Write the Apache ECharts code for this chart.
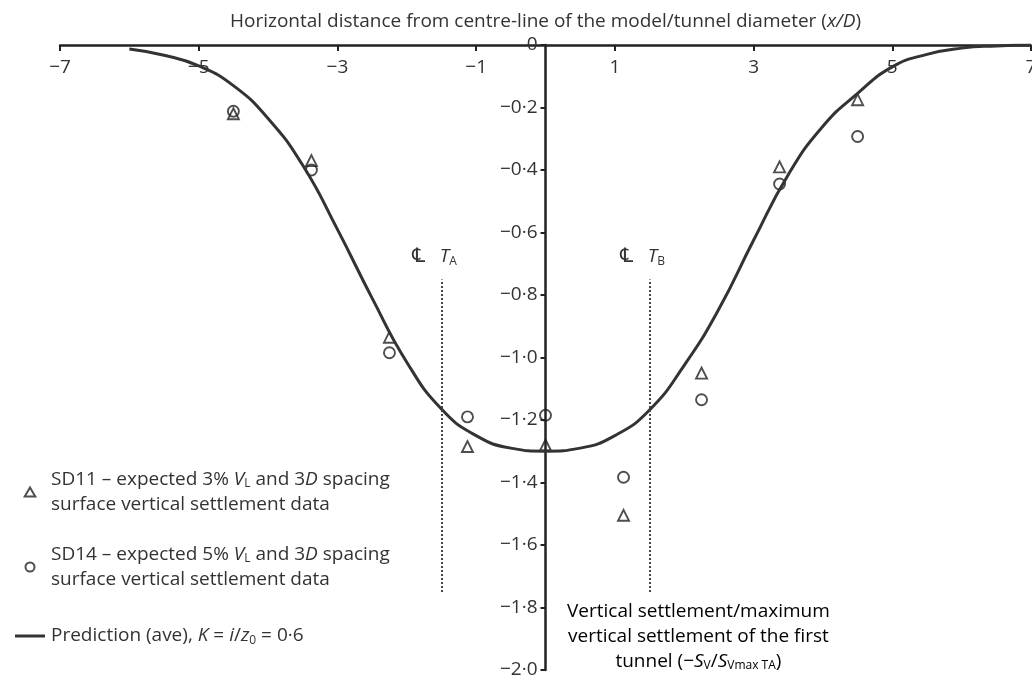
<!DOCTYPE html>
<html>
<head>
<meta charset="utf-8">
<script src="https://cdn.jsdelivr.net/npm/echarts@6/dist/echarts.min.js"></script>
<style>
  html, body { margin: 0; padding: 0; background: #fff; }
  #main { width: 1032px; height: 678px; }
</style>
</head>
<body>
<div id="main"></div>
<script>
// x/D positions of the measured surface settlements
const markerX = [-4.5, -3.375, -2.25, -1.125, 0, 1.125, 2.25, 3.375, 4.5];
// SD11 (triangles) and SD14 (circles), -Sv/Svmax TA
const sd11 = [-0.22, -0.37, -0.935, -1.285, -1.28, -1.505, -1.05, -0.39, -0.175];
const sd14 = [-0.212, -0.40, -0.985, -1.19, -1.185, -1.383, -1.135, -0.445, -0.293];

// prediction curve
const curveX = [-6, -5.5, -5, -4.5, -4, -3.5, -3, -2.5, -2, -1.5, -1, -0.5, 0,
                0.5, 1, 1.5, 2, 2.5, 3, 3.5, 4, 4.5, 5, 5.5, 6, 6.5, 7];
const curveY = [-0.013, -0.033, -0.067, -0.13, -0.235, -0.385, -0.59, -0.81, -1.015, -1.165, -1.25, -1.29, -1.3,
                -1.29, -1.25, -1.168, -1.025, -0.845, -0.625, -0.415, -0.26, -0.155, -0.07, -0.03, -0.01, -0.003, 0];

// tunnel centre lines
const tunnelX = [-1.5, 1.5];
const tunnelNames = ['A', 'B'];
const tunnelSpan = [-1.75, -0.75];

const FONT = '"Open Sans", "Noto Sans", sans-serif';
const INK = '#333';
const FS = 19;

const sub = { fontFamily: FONT, fontSize: 12, color: INK, padding: [9, 0, 0, 0] };
const ital = { fontFamily: FONT, fontSize: FS, color: INK, fontStyle: 'italic' };
const plain = { fontFamily: FONT, fontSize: FS, color: INK };

const names = [
  'SD11 – expected 3% V_L and 3D spacing',
  'SD14 – expected 5% V_L and 3D spacing',
  'Prediction (ave), K = i/z0 = 0·6'
];

function minus(v) {
  return v < 0 ? '\u2212' + String(-v) : String(v);
}

const chart = echarts.init(document.getElementById('main'));

const lh = (o, h) => Object.assign({ lineHeight: h }, o);
const hollow = { color: 'rgba(255,255,255,0)', borderColor: '#222', borderWidth: 1.9 };

const option = {
  backgroundColor: '#fff',
  animation: false,
  grid: { left: 60, right: 1, top: 45, bottom: 8, outerBoundsMode: 'none' },
  textStyle: { fontFamily: FONT, color: INK },
  xAxis: {
    type: 'value',
    position: 'top',
    min: -7, max: 7, interval: 2,
    name: 'Horizontal distance from centre-line of the model/tunnel diameter ({i|x/D})',
    nameLocation: 'middle',
    nameGap: 14,
    nameTextStyle: { fontFamily: FONT, fontSize: FS, color: INK, rich: { i: ital } },
    axisLine: { onZero: false, lineStyle: { color: '#222', width: 2.5 } },
    axisTick: { inside: true, length: 6, lineStyle: { color: '#222', width: 2 } },
    axisLabel: { inside: true, margin: 13, fontSize: FS, color: INK, fontFamily: FONT, formatter: minus },
    splitLine: { show: false }
  },
  yAxis: {
    type: 'value',
    position: 'left',
    offset: -485.5,
    min: -2, max: 0, interval: 0.2,
    axisLine: { onZero: false, lineStyle: { color: '#222', width: 2.5 } },
    axisTick: { length: 5, lineStyle: { color: '#222', width: 2 } },
    axisLabel: {
      margin: 8, fontSize: FS, color: INK, fontFamily: FONT,
      formatter: v => Math.abs(v) < 1e-9 ? '0' : '\u2212' + Math.abs(v).toFixed(1).replace('.', '\u00b7')
    },
    splitLine: { show: false }
  },
  legend: {
    orient: 'vertical',
    left: 10,
    top: 462,
    itemWidth: 30,
    itemHeight: 9,
    itemGap: 25,
    symbolKeepAspect: true,
    data: [
      { name: names[0], icon: 'path://M5,0L10,8.5L0,8.5Z' },
      { name: names[1], icon: 'circle' },
      { name: names[2], icon: 'path://M0,0L30,0L30,3L0,3Z', itemStyle: { color: INK, borderWidth: 0 } }
    ],
    textStyle: {
      fontFamily: FONT, fontSize: FS, color: INK, lineHeight: 25, padding: [0, 0, 0, 1],
      rich: {
        i: lh(ital, 25), s: lh(sub, 25), n: lh(plain, 25),
        I: lh(ital, 38), S: lh(sub, 38), N: lh(plain, 38)
      }
    },
    formatter: function (name) {
      if (name === names[0]) return '{n|SD11 – expected 3% }{i|V}{s|L}{n| and 3}{i|D}{n| spacing}\n{n|surface vertical settlement data}';
      if (name === names[1]) return '{n|SD14 – expected 5% }{i|V}{s|L}{n| and 3}{i|D}{n| spacing}\n{n|surface vertical settlement data}';
      return '{N|Prediction (ave), }{I|K}{N| = }{I|i}{N|/}{I|z}{S|0}{N| = 0·6}';
    }
  },
  graphic: [{
    type: 'text',
    left: 567,
    top: 602,
    style: {
      text: '{n|Vertical settlement/maximum}\n{n|vertical settlement of the first}\n{n|tunnel (\u2212}{i|S}{s|V}{n|/}{i|S}{s|Vmax TA}{n|)}',
      align: 'center',
      width: 263,
      rich: { n: Object.assign({ lineHeight: 25, align: 'center' }, plain), i: lh(ital, 25), s: lh(sub, 25) }
    }
  }],
  series: [
    {
      name: names[0],
      type: 'scatter',
      symbol: 'triangle',
      symbolSize: 11,
      itemStyle: hollow,
      data: markerX.map((x, i) => [x, sd11[i]])
    },
    {
      name: names[1],
      type: 'scatter',
      symbol: 'circle',
      symbolSize: 11,
      itemStyle: hollow,
      data: markerX.map((x, i) => [x, sd14[i]])
    },
    {
      name: names[2],
      type: 'line',
      smooth: true,
      symbol: 'none',
      lineStyle: { color: INK, width: 3 },
      itemStyle: { color: INK },
      data: curveX.map((x, i) => [x, curveY[i]]),
      markLine: {
        silent: true,
        symbol: 'none',
        lineStyle: { type: 'dotted', color: '#444', width: 2 },
        label: {
          position: 'end',
          distance: 12,
          padding: [0, 14, 0, 0],
          formatter: p => '{c|\u2104}{n|   }{i|T}{s|' + p.name + '}',
          rich: {
            c: { fontFamily: '"DejaVu Sans", ' + FONT, fontSize: 20, color: INK },
            n: plain, i: ital, s: sub
          }
        },
        data: tunnelX.map((x, i) => [
          { name: tunnelNames[i], coord: [x, tunnelSpan[0]] },
          { coord: [x, tunnelSpan[1]] }
        ])
      }
    }
  ]
};

option && chart.setOption(option);
</script>
</body>
</html>
